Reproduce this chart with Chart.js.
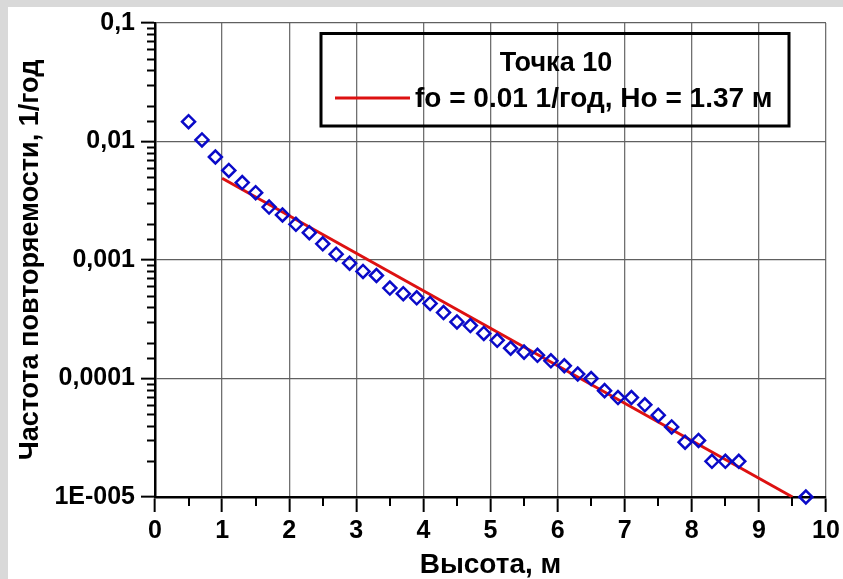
<!DOCTYPE html>
<html>
<head>
<meta charset="utf-8">
<script src="https://cdn.jsdelivr.net/npm/chart.js@4.4.1/dist/chart.umd.min.js"></script>
<style>
  html, body { margin: 0; padding: 0; background: #d9d9d9; width: 843px; height: 579px; overflow: hidden; }
  #frame { position: absolute; left: 8px; top: 7px; width: 835px; height: 572px; background: #ffffff; }
  canvas { display: block; }
</style>
</head>
<body>
<div id="frame"><canvas id="c" width="835" height="572"></canvas></div>
<script>
// ---- data ----
const heights = [0.5, 0.7, 0.9, 1.1, 1.3, 1.5, 1.7, 1.9, 2.1, 2.3, 2.5, 2.7, 2.9, 3.1, 3.3,
  3.5, 3.7, 3.9, 4.1, 4.3, 4.5, 4.7, 4.9, 5.1, 5.3, 5.5, 5.7, 5.9, 6.1, 6.3, 6.5,
  6.7, 6.9, 7.1, 7.3, 7.5, 7.7, 7.9, 8.1, 8.3, 8.5, 8.7, 9.7];
const frequencies = [0.0147, 0.0103, 0.0074, 0.0057, 0.0045, 0.0037, 0.0028, 0.0024, 0.0020, 0.0017,
  0.00137, 0.00112, 0.00094, 0.00080, 0.00074, 0.00058, 0.00052, 0.00048, 0.00043, 0.00036,
  0.00030, 0.00028, 0.00024, 0.00021, 0.00018, 0.000167, 0.000157, 0.000141, 0.000128, 0.000109,
  0.000100, 0.000079, 0.000069, 0.000069, 0.000060, 0.000049, 0.000039, 0.000029, 0.000030,
  0.000020, 0.000020, 0.000020, 0.000010];
const fitHeights = [1.0, 9.5];
const fitFrequencies = [0.0049, 0.00001];

const yTickValues = [0.00001, 0.0001, 0.001, 0.01, 0.1];
const yTickLabels = ['1E-005', '0,0001', '0,001', '0,01', '0,1'];
const xTickValues = [0, 1, 2, 3, 4, 5, 6, 7, 8, 9, 10];
const xTickLabels = ['0', '1', '2', '3', '4', '5', '6', '7', '8', '9', '10'];

const legendTitle = 'Точка 10';
const fitLabel = 'fo = 0.01 1/год, Ho = 1.37 м';
const pointsLabel = 'Точка 10 (данные)';
const xTitle = 'Высота, м';
const yTitle = 'Частота повторяемости, 1/год';

// ---- helpers ----
const FONT = '"Liberation Sans", Arial, sans-serif';
function yIndex(v) { return yTickValues.findIndex(t => Math.abs(v - t) / t < 1e-6); }
function xIndex(v) { return xTickValues.findIndex(t => Math.abs(v - t) < 1e-6); }

const minorTicks = {
  id: 'minorTicks',
  afterDraw(chart) {
    const ctx = chart.ctx;
    const xs = chart.scales.x, ys = chart.scales.y;
    const area = chart.chartArea;
    ctx.save();
    ctx.strokeStyle = '#000';
    ctx.lineWidth = 2;
    ctx.beginPath();
    ys.ticks.forEach(t => {
      if (yIndex(t.value) < 0) {
        const py = Math.round(ys.getPixelForValue(t.value)) + 0.5;
        ctx.moveTo(area.left - 8, py);
        ctx.lineTo(area.left, py);
      }
    });
    xs.ticks.forEach(t => {
      if (xIndex(t.value) < 0) {
        const px = Math.round(xs.getPixelForValue(t.value));
        ctx.moveTo(px, area.bottom);
        ctx.lineTo(px, area.bottom + 9);
      }
    });
    ctx.stroke();
    ctx.restore();
  }
};

const legendBox = {
  id: 'legendBox',
  afterDraw(chart) {
    const ctx = chart.ctx;
    ctx.save();
    ctx.lineWidth = 3;
    ctx.strokeStyle = '#000';
    ctx.strokeRect(313, 26.5, 468, 92.5);
    ctx.fillStyle = '#000';
    ctx.font = 'bold 27px ' + FONT;
    ctx.textAlign = 'center';
    ctx.textBaseline = 'middle';
    ctx.fillText(legendTitle, 548, 57);
    ctx.strokeStyle = '#dd1111';
    ctx.lineWidth = 3;
    ctx.beginPath();
    ctx.moveTo(327, 91);
    ctx.lineTo(402, 91);
    ctx.stroke();
    ctx.font = 'bold 28px ' + FONT;
    ctx.textAlign = 'left';
    ctx.fillText(fitLabel, 407, 92);
    ctx.restore();
  }
};

new Chart(document.getElementById('c'), {
  type: 'scatter',
  data: {
    datasets: [
      {
        label: pointsLabel,
        data: heights.map((h, i) => ({ x: h, y: frequencies[i] })),
        pointStyle: 'rectRot',
        pointRadius: 6.5,
        pointBorderWidth: 2.5,
        borderColor: '#0a0ac8',
        backgroundColor: 'rgba(0,0,0,0)',
        showLine: false,
        clip: false,
        order: 1
      },
      {
        label: fitLabel,
        data: fitHeights.map((h, i) => ({ x: h, y: fitFrequencies[i] })),
        showLine: true,
        borderColor: '#dd1111',
        borderWidth: 3,
        pointRadius: 0,
        clip: false,
        order: 2
      }
    ]
  },
  options: {
    responsive: false,
    animation: false,
    layout: { padding: { left: 0, top: 16, right: 17, bottom: 0 } },
    plugins: { legend: { display: false }, tooltip: { enabled: false } },
    scales: {
      x: {
        type: 'linear',
        min: 0, max: 10,
        afterFit(s) { s.height = 82; s.paddingLeft = 0; s.paddingRight = 0; },
        border: { color: '#000', width: 2.5 },
        grid: {
          color: c => (xIndex(c.tick.value) > 0 ? '#707070' : 'rgba(0,0,0,0)'),
          lineWidth: 1.3,
          drawTicks: true,
          tickLength: 15,
          tickWidth: 2,
          tickColor: c => (xIndex(c.tick.value) >= 0 ? '#000' : 'rgba(0,0,0,0)')
        },
        ticks: {
          stepSize: 0.5,
          autoSkip: false,
          maxRotation: 0,
          padding: 4,
          color: '#000',
          font: { family: FONT, size: 25, weight: 'bold' },
          callback: v => { const i = xIndex(v); return i >= 0 ? xTickLabels[i] : ''; }
        },
        title: {
          display: true,
          text: xTitle,
          color: '#000',
          font: { family: FONT, size: 28, weight: 'bold', lineHeight: 1 },
          padding: { top: 0, bottom: 0 }
        }
      },
      y: {
        type: 'logarithmic',
        min: 0.00001, max: 0.1,
        afterFit(s) { s.width = 147; s.paddingTop = 0; s.paddingBottom = 0; },
        border: { color: '#000', width: 2.5 },
        grid: {
          color: c => (yIndex(c.tick.value) > 0 ? '#606060' : 'rgba(0,0,0,0)'),
          lineWidth: 1.3,
          drawTicks: true,
          tickLength: 14,
          tickWidth: 2,
          tickColor: c => (yIndex(c.tick.value) >= 0 ? '#000' : 'rgba(0,0,0,0)')
        },
        ticks: {
          autoSkip: false,
          padding: 6,
          color: '#000',
          font: { family: FONT, size: 25, weight: 'bold' },
          callback: v => { const i = yIndex(v); return i >= 0 ? yTickLabels[i] : ''; }
        },
        title: {
          display: true,
          text: yTitle,
          color: '#000',
          font: { family: FONT, size: 27, weight: 'bold', lineHeight: 1 },
          padding: { top: 9, bottom: 0 }
        }
      }
    }
  },
  plugins: [minorTicks, legendBox]
});
</script>
</body>
</html>
